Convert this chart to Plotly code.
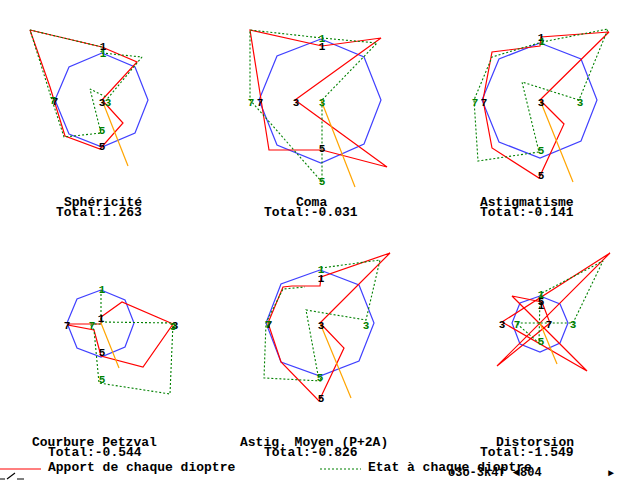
import plotly.graph_objects as go

# Offsets, relative to each octagon's centre (y grows downward).
TITLES = ["Sphéricité", "Coma", "Astigmatisme", "Courbure Petzval", "Astig. Moyen (P+2A)", "Distorsion"]
TOTALS = ["Total:1.263", "Total:-0.031", "Total:-0.141", "Total:-0.544", "Total:-0.826", "Total:-1.549"]
SURFACES = ["1", "7", "3", "5"]

OCT_X = [[0, 33, 46, 33, 0, -33, -47, -33, 0],
         [0, 43, 60, 43, 0, -44, -62, -44, 0],
         [0, 41, 57, 41, 0, -41, -58, -41, 0],
         [0, 24, 33, 24, 0, -24, -34, -24, 0],
         [0, 39, 54, 39, 0, -39, -54, -39, 0],
         [0, 20, 28, 20, 0, -20, -28, -20, 0]]
OCT_Y = [[-47, -33, 0, 33, 47, 34, 0, -33, -47],
         [-61, -43, 0, 44, 63, 45, 0, -44, -61],
         [-57, -41, 0, 41, 58, 42, 0, -41, -57],
         [-33, -23, 0, 24, 34, 25, 0, -24, -33],
         [-53, -38, 0, 38, 53, 39, 0, -39, -53],
         [-27, -19, 0, 20, 29, 21, 0, -20, -27]]

RED_X = [[0, 35, 0, -72, -52, -37, -2, 21, 0],
         [-26, 60, 1, -71, -52, 1, 66, -26],
         [0, 69, 1, 0, -48, -57, -48, -1, 24, 0],
         [0, 21, 72, 42, 0, -7, -33, -33, 0, 0],
         [0, 70, 1, 0, -28, -37, -52, -39, -1, 24, 0],
         [-43, 70, -38, 47, -28, 2, 10, -43]]
RED_Y = [[0, -38, -53, -70, -13, 36, 49, 23, 0],
         [0, -62, -54, -70, 50, 50, 67, 0],
         [0, -68, -63, -54, -48, 0, 48, 78, 24, 0],
         [-6, -21, 1, 44, 33, 7, 2, 1, 1, -6],
         [0, -70, -46, -37, -37, -36, 0, 39, 78, 25, 0],
         [43, -70, -1, 48, -27, -21, 0, 43]]

GREEN_X = [[0, 40, 6, -12, -1, -38, -50, -72, 0, 0],
           [1, 56, 1, 1, -71, -71, 1],
           [2, 68, 39, -18, -1, -62, -66, -48, 2],
           [0, 0, 72, 69, -2, -7, -11, 0],
           [1, 60, 46, -14, -2, 2, -56, -54, -37, -15],
           [2, 63, 33, -24, -1, 0, 2]]
GREEN_Y = [[-47, -43, -2, -11, 33, 37, 0, -70, -53, -47],
           [-62, -57, 0, 82, 0, -70, -62],
           [-58, -71, 0, -18, 52, 61, 0, -43, -58],
           [-33, -1, 0, 71, 60, 7, 1, 1],
           [-55, -63, -3, -13, 52, 58, 55, 0, -34, -36],
           [-30, -62, 0, 0, 20, -27, -30]]

ORANGE_X = [26, 34, 33, 18, 31, 17]
ORANGE_Y = [66, 87, 82, 45, 75, 41]

BLACK_LABEL_X = [[1, -47, 0, 0], [1, -61, -25, 1], [1, -56, 1, 1], [0, -34, 74, 1], [1, -51, 1, 1], [1, 9, -38, 1]]
BLACK_LABEL_Y = [[-53, 2, 3, 47], [-53, 3, 3, 49], [-62, 3, 3, 76], [-4, 3, 3, 30], [-44, 2, 3, 76], [-17, 2, 2, -21]]
GREEN_LABEL_X = [[1, -49, 6, 0], [1, -70, 1, 1], [2, -65, 40, 1], [1, -9, 72, 1], [1, -52, 46, 0], [1, -23, 33, 1]]
GREEN_LABEL_Y = [[-46, 1, 3, 31], [-61, 3, 3, 82], [-58, 3, 3, 51], [-33, 3, 4, 57], [-53, 2, 3, 55], [-28, 2, 2, 19]]

LEGEND_RED = "Apport de chaque dioptre"
LEGEND_GREEN = "Etat à chaque dioptre"
STATUS = "o3o-3k4f ◄804"
ARROW = "►"

W, H = 640, 480
CENTERS = [(102, 100), (321, 100), (540, 100), (101, 323), (320, 323), (540, 323)]
CELLS = [(0, 213, 0, 240), (213, 427, 0, 240), (427, 640, 0, 240),
         (0, 213, 240, 480), (213, 427, 240, 480), (427, 640, 240, 480)]
TITLE_POS = [(64, 56, 202, 212), (296, 264, 202, 212), (480, 480, 202, 212),
             (32, 48, 442, 452), (240, 264, 442, 452), (496, 480, 442, 452)]
FONT = "Liberation Mono"

BLUE, RED, GREEN, ORANGE = "#4040ff", "#ff0000", "#008000", "#ffa500"


def px(x):
    return x / W


def py(y):
    return 1 - y / H


fig = go.Figure()
layout = {}
notes = []
for i in range(6):
    n = "" if i == 0 else str(i + 1)
    xa, ya = "x" + n, "y" + n
    cx, cy = CENTERS[i]
    x0, x1, y0, y1 = CELLS[i]
    layout["xaxis" + n] = dict(domain=[px(x0), px(x1)], range=[x0 - cx, x1 - cx], visible=False, anchor=ya, fixedrange=True)
    layout["yaxis" + n] = dict(domain=[py(y1), py(y0)], range=[y1 - cy, y0 - cy], visible=False, anchor=xa, fixedrange=True)

    def line(xs, ys, color, name, dash="solid", width=1.2):
        fig.add_trace(go.Scatter(x=xs, y=ys, mode="lines", name=name, xaxis=xa, yaxis=ya,
                                 line=dict(color=color, width=width, dash=dash), hoverinfo="skip"))

    line(OCT_X[i], OCT_Y[i], BLUE, "Cercle")
    line(RED_X[i], RED_Y[i], RED, LEGEND_RED)
    line(GREEN_X[i], GREEN_Y[i], GREEN, LEGEND_GREEN, dash="2px,2px", width=1.1)
    line([0, ORANGE_X[i]], [0, ORANGE_Y[i]], ORANGE, "Axe")
    for lx, ly, col in ((BLACK_LABEL_X[i], BLACK_LABEL_Y[i], "black"), (GREEN_LABEL_X[i], GREEN_LABEL_Y[i], GREEN)):
        fig.add_trace(go.Scatter(x=lx, y=ly, mode="text", text=SURFACES, xaxis=xa, yaxis=ya, cliponaxis=False,
                                 textposition="middle center", hoverinfo="skip",
                                 textfont=dict(family=FONT, size=11, color=col, weight="bold")))
    tx, sx, ty, sy = TITLE_POS[i]
    notes.append((tx, ty, TITLES[i], 13))
    notes.append((sx, sy, TOTALS[i], 13))

notes += [(48, 467, LEGEND_RED, 13), (368, 467, LEGEND_GREEN, 13), (448, 473, STATUS, 12), (608, 473, ARROW, 10)]
annotations = [dict(x=px(x), y=py(y), xref="paper", yref="paper", text=t, showarrow=False,
                    xanchor="left", yanchor="middle",
                    font=dict(family=FONT, size=size, color="black", weight="bold"),
                    borderpad=0, borderwidth=0) for x, y, t, size in notes]

shapes = [
    dict(type="line", xref="paper", yref="paper", x0=px(0), x1=px(41), y0=py(469), y1=py(469), line=dict(color=RED, width=1.2)),
    dict(type="line", xref="paper", yref="paper", x0=px(320), x1=px(361), y0=py(469), y1=py(469), line=dict(color=GREEN, width=1.1, dash="2px,2px")),
    dict(type="path", xref="paper", yref="paper",
         path=f"M {px(0)} {py(479)} L {px(5)} {py(479)} M {px(7)} {py(479)} L {px(15)} {py(473)} M {px(17)} {py(479)} L {px(24)} {py(479)}",
         line=dict(color="black", width=1.1)),
]

fig.update_layout(width=W, height=H, margin=dict(l=0, r=0, t=0, b=0), autosize=False,
                  paper_bgcolor="white", plot_bgcolor="white", showlegend=False,
                  annotations=annotations, shapes=shapes, **layout)
fig.write_html("out.html", config={"displayModeBar": False},
               post_script="document.body.style.margin='0';document.body.style.overflow='hidden';")
